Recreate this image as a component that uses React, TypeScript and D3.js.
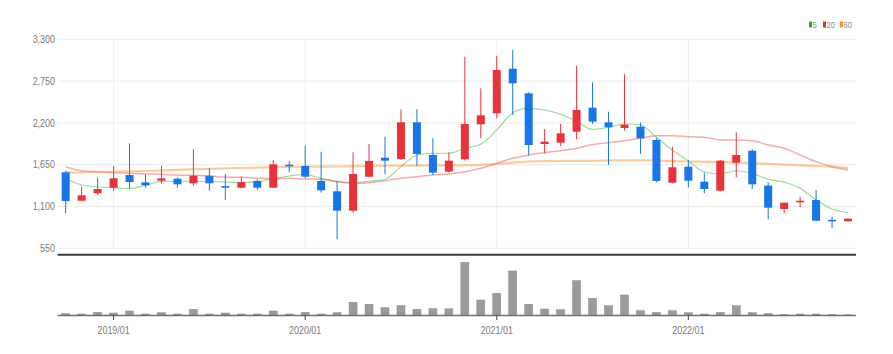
import React from "react";
import * as d3 from "d3";

const months = [
  "2018/10","2018/11","2018/12",
  "2019/01","2019/02","2019/03","2019/04","2019/05","2019/06","2019/07","2019/08","2019/09","2019/10","2019/11","2019/12",
  "2020/01","2020/02","2020/03","2020/04","2020/05","2020/06","2020/07","2020/08","2020/09","2020/10","2020/11","2020/12",
  "2021/01","2021/02","2021/03","2021/04","2021/05","2021/06","2021/07","2021/08","2021/09","2021/10","2021/11","2021/12",
  "2022/01","2022/02","2022/03","2022/04","2022/05","2022/06","2022/07","2022/08","2022/09","2022/10","2022/11",
];

const openValues = [
  1550,1176,1274,1347,1514,1418,1439,1466,1405,1505,1368,1347,1436,1347,1650,
  1633,1436,1300,1045,1492,1742,1725,2208,1778,1558,1721,2182,2326,2913,2589,
  1922,1940,2084,2400,2208,2133,2150,1975,1413,1624,1426,1308,1676,1834,1374,
  1067,1159,1186,925,905,
];
const closeValues = [
  1172,1247,1330,1471,1422,1379,1471,1392,1505,1405,1355,1422,1347,1655,1633,
  1492,1313,1045,1528,1699,1703,2208,1791,1545,1703,2186,2300,2896,2721,1909,
  1953,2063,2370,2216,2142,2176,1997,1436,1616,1439,1330,1703,1778,1392,1084,
  1150,1176,913,912,940,
];
const highValues = [
  1571,1360,1484,1633,1932,1524,1637,1484,1853,1603,1528,1492,1458,1712,1695,
  1896,1821,1436,1813,1922,2018,2379,2379,1997,1813,3071,2655,3084,3159,2603,
  2120,2186,2949,2734,2347,2840,2203,1997,1887,1712,1545,1712,2076,1853,1418,
  1155,1229,1317,966,945,
];
const lowValues = [
  1010,1170,1251,1308,1330,1347,1405,1347,1374,1308,1186,1339,1317,1339,1554,
  1471,1282,668,1018,1484,1524,1712,1633,1514,1545,1703,1997,2261,2304,1768,
  1800,1896,1984,2186,1646,2097,1791,1418,1405,1353,1274,1300,1484,1330,932,
  1010,1090,905,813,900,
];
const volumeValues = [
  130,100,270,200,400,100,230,100,570,100,200,100,100,400,100,
  270,100,230,1270,1070,730,930,570,630,620,5270,1500,2170,4400,1070,
  600,530,3430,1670,930,2000,430,270,430,230,100,270,930,230,130,
  30,100,100,30,20,
];
const ma5Values = [
  1471,1383,1360,1347,1337,1380,1429,1433,1433,1429,1422,1416,1429,1464,1501,
  1521,1471,1432,1416,1432,1458,1624,1778,1800,1800,1866,1918,2107,2334,2392,
  2370,2313,2221,2116,2142,2186,2172,2011,1843,1699,1554,1528,1571,1534,1458,
  1422,1339,1189,1067,1021,
];
const ma20Values = [
  1624,1571,1558,1545,1537,1528,1524,1514,1511,1501,1484,1484,1471,1466,1471,
  1462,1458,1426,1405,1413,1440,1471,1492,1514,1528,1558,1603,1668,1734,1778,
  1808,1834,1866,1916,1940,1966,1997,2032,2032,2018,2011,1975,1975,1966,1909,
  1866,1778,1690,1624,1580,
];
const ma60Values = [
  1545,1550,1555,1558,1562,1567,1574,1582,1590,1596,1600,1606,1612,1618,1622,
  1624,1625,1626,1628,1632,1636,1638,1639,1640,1640,1643,1648,1660,1678,1692,
  1698,1700,1700,1702,1705,1708,1708,1705,1698,1692,1688,1684,1678,1670,1660,
  1650,1640,1632,1624,1606,
];

const priceTicks = [550, 1100, 1650, 2200, 2750, 3300];
const timeTicks = ["2019/01", "2020/01", "2021/01", "2022/01"];
const legendLabels = ["5", "20", "60"];
const legendColors = ["#22b022", "#ee3030", "#f5942a"];
const maColors = ["#3cba3c", "#ee4444", "#f59a40"];

const W = 893;
const H = 354;
const UP = "#e8333a";
const DOWN = "#1976e8";
const FONT = "'Liberation Sans Narrow', 'Liberation Sans', Arial, sans-serif";

export default function App() {
  const x = d3.scaleBand<string>().domain(months).range([57.7, 856]).padding(0);
  const cx = (m: string) => (x(m) as number) + x.bandwidth() / 2;
  const y = d3.scaleLinear().domain([550, 3300]).range([248.3, 39.3]);
  const yv = d3.scaleLinear().domain([0, 5270]).range([315, 262.3]);
  const bodyW = 8;
  const volW = 8;

  const maLines = [ma5Values, ma20Values, ma60Values].map((vals) =>
    d3
      .line<number>()
      .x((_, i) => cx(months[i]))
      .y((v) => y(v))
      .curve(d3.curveMonotoneX)(vals) as string
  );
  const maWidths = [1.1, 1.5, 2.2];
  const maOpacity = [0.55, 0.45, 0.5];

  return (
    <>
      <style>{`body{margin:0;}`}</style>
      <svg width={W} height={H} style={{ display: "block", background: "#fff" }}>
        {/* horizontal grid */}
        {priceTicks.map((t) => (
          <line key={"g" + t} x1={57.7} x2={856} y1={y(t)} y2={y(t)} stroke="#ebebeb" strokeWidth={1} />
        ))}
        {/* vertical grid */}
        {timeTicks.map((m) => (
          <line key={"v" + m} x1={cx(m)} x2={cx(m)} y1={y(3300)} y2={y(550)} stroke="#eeeeee" strokeWidth={1} />
        ))}
        {/* y labels */}
        {priceTicks.map((t) => (
          <text
            key={"yl" + t}
            x={55}
            y={y(t)}
            dy="0.35em"
            textAnchor="end"
            fontFamily={FONT}
            fontSize={10.5}
            fill="#7a7a7a"
            transform={`translate(55,0) scale(0.85,1) translate(-55,0)`}
          >
            {d3.format(",")(t)}
          </text>
        ))}
        {/* MA lines */}
        {maLines.map((d, i) => (
          <path key={"ma" + i} d={d} fill="none" stroke={maColors[i]} strokeWidth={maWidths[i]} strokeOpacity={maOpacity[i]} />
        ))}
        {/* candles */}
        {months.map((m, i) => {
          const o = openValues[i];
          const c = closeValues[i];
          const up = c >= o;
          const col = up ? UP : DOWN;
          const top = y(Math.max(o, c));
          const bot = y(Math.min(o, c));
          const h = Math.max(1.6, bot - top);
          return (
            <g key={"c" + m}>
              <line x1={cx(m)} x2={cx(m)} y1={y(highValues[i])} y2={y(lowValues[i])} stroke={col} strokeWidth={1} />
              <rect x={cx(m) - bodyW / 2} y={top} width={bodyW} height={h} fill={col} />
            </g>
          );
        })}
        {/* price panel bottom axis */}
        <line x1={57.7} x2={856} y1={254.8} y2={254.8} stroke="#3a3a3a" strokeWidth={2} />
        {/* volume bars */}
        {months.map((m, i) => {
          const top = yv(volumeValues[i]);
          return (
            <rect
              key={"vb" + m}
              x={cx(m) - volW / 2}
              y={top}
              width={volW}
              height={315 - top}
              fill="#9b9b9b"
              stroke="#8a8a8a"
              strokeWidth={0.5}
            />
          );
        })}
        <line x1={57.7} x2={856} y1={315.5} y2={315.5} stroke="#6f6f6f" strokeWidth={1.6} />
        {timeTicks.map((m) => (
          <g key={"xt" + m}>
            <line x1={cx(m)} x2={cx(m)} y1={315} y2={320} stroke="#444" strokeWidth={1} />
            <text
              x={cx(m)}
              y={330}
              dy="0.35em"
              textAnchor="middle"
              fontFamily={FONT}
              fontSize={10.5}
              fill="#7a7a7a"
              transform={`translate(${cx(m)},0) scale(0.85,1) translate(${-cx(m)},0)`}
            >
              {m}
            </text>
          </g>
        ))}
        {/* legend */}
        {legendLabels.map((l, i) => {
          const lx = [809, 823, 840][i];
          return (
            <g key={"lg" + l}>
              <rect x={lx} y={21.5} width={3} height={6} fill={legendColors[i]} />
              <text
                x={lx + 3.6}
                y={25}
                dy="0.35em"
                fontFamily={FONT}
                fontSize={9.5}
                fill="#888"
                transform={`translate(${lx + 3.6},0) scale(0.8,1) translate(${-(lx + 3.6)},0)`}
              >
                {l}
              </text>
            </g>
          );
        })}
      </svg>
    </>
  );
}
